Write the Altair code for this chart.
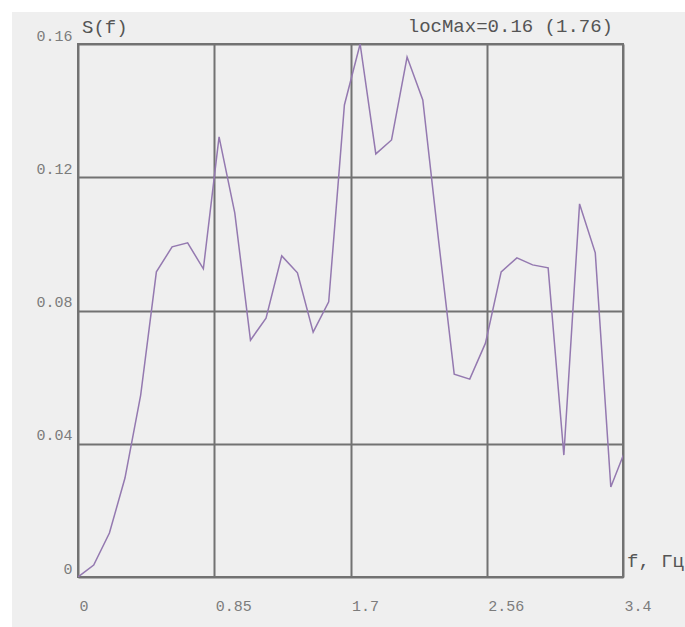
import json
import altair as alt
import pandas as pd

# ---- data ----
freq = [0.000, 0.098, 0.196, 0.293, 0.391, 0.489, 0.587, 0.684, 0.782, 0.880,
        0.978, 1.076, 1.173, 1.271, 1.369, 1.467, 1.564, 1.662, 1.760, 1.858,
        1.956, 2.053, 2.151, 2.249, 2.347, 2.444, 2.542, 2.640, 2.738, 2.836,
        2.933, 3.031, 3.129, 3.227, 3.324, 3.422]
spec = [0.0000, 0.0036, 0.0132, 0.0297, 0.0546, 0.0916, 0.0991, 0.1003, 0.0925, 0.1321,
        0.1093, 0.0711, 0.0777, 0.0964, 0.0913, 0.0735, 0.0826, 0.1417, 0.1600, 0.1270,
        0.1312, 0.1561, 0.1432, 0.1012, 0.0609, 0.0594, 0.0702, 0.0916, 0.0958, 0.0937,
        0.0928, 0.0366, 0.1120, 0.0973, 0.0270, 0.0390]

x_ticks = [0, 0.85, 1.7, 2.55, 3.4]
x_tick_labels = ["0", "0.85", "1.7", "2.56", "3.4"]
y_ticks = [0, 0.04, 0.08, 0.12, 0.16]
y_tick_labels = ["0", "0.04", "0.08", "0.12", "0.16"]

y_title = "S(f)"
x_title = "f, Гц"
max_note = "locMax=0.16 (1.76)"

# ---- layout ----
W, H = 545, 533
L, T = 78, 44
FONT = "Courier New, Liberation Mono, monospace"
GRID = "#727272"
BG = "#efefef"

df = pd.DataFrame({"f": freq, "S": spec})
one = pd.DataFrame({"a": [0]})

x_expr = f"{json.dumps(x_tick_labels)}[indexof({json.dumps(x_ticks)}, datum.value)]"
y_expr = f"{json.dumps(y_tick_labels)}[indexof({json.dumps(y_ticks)}, datum.value)]"

line = alt.Chart(df).mark_line(color="#9479b0", strokeWidth=1.5, clip=True).encode(
    x=alt.X("f:Q",
            scale=alt.Scale(domain=[0, 3.4], nice=False, zero=False),
            axis=alt.Axis(values=x_ticks, labelExpr=x_expr, title=None,
                          grid=True, gridColor=GRID, gridWidth=2, gridOpacity=1,
                          domain=False, ticks=False, tickSize=0,
                          labelAlign="left", labelBaseline="alphabetic",
                          labelPadding=33, labelOffset=1,
                          labelFont=FONT, labelFontSize=15, labelColor="#7c7c7c",
                          labelFlush=False, labelOverlap=False)),
    y=alt.Y("S:Q",
            scale=alt.Scale(domain=[0, 0.16], nice=False, zero=True),
            axis=alt.Axis(values=y_ticks, labelExpr=y_expr, title=None,
                          grid=True, gridColor=GRID, gridWidth=2, gridOpacity=1,
                          domain=False, ticks=False, tickSize=0,
                          labelAlign="right", labelBaseline="alphabetic",
                          labelPadding=6, labelOffset=-4,
                          labelFont=FONT, labelFontSize=15, labelColor="#7c7c7c",
                          labelFlush=False, labelOverlap=False)),
)

# white strips at the top and left edge of the picture
strip_top = alt.Chart(one).mark_rect(color="white").encode(
    x=alt.value(-L), x2=alt.value(685 - L), y=alt.value(-T), y2=alt.value(12 - T))
strip_left = alt.Chart(one).mark_rect(color="white").encode(
    x=alt.value(-L), x2=alt.value(12 - L), y=alt.value(-T), y2=alt.value(627 - T))

t_y = alt.Chart(one).mark_text(text=y_title, font=FONT, fontSize=19, color="#555555",
                               align="left", baseline="alphabetic").encode(
    x=alt.value(4), y=alt.value(-11))
t_max = alt.Chart(one).mark_text(text=max_note, font=FONT, fontSize=19, color="#555555",
                                 align="right", baseline="alphabetic").encode(
    x=alt.value(535), y=alt.value(-12))
t_x = alt.Chart(one).mark_text(text=x_title, font=FONT, fontSize=19, color="#555555",
                               align="left", baseline="alphabetic").encode(
    x=alt.value(549), y=alt.value(523))

chart = alt.layer(strip_top, strip_left, line, t_y, t_max, t_x).properties(
    width=W, height=H,
    padding={"left": L, "top": T, "right": 685 - L - W, "bottom": 627 - T - H},
    autosize=alt.AutoSizeParams(type="none"),
    background=BG,
).configure_view(stroke=GRID, strokeWidth=2, fill=BG)

chart.save("out.html", embed_options={"renderer": "svg", "actions": False})
